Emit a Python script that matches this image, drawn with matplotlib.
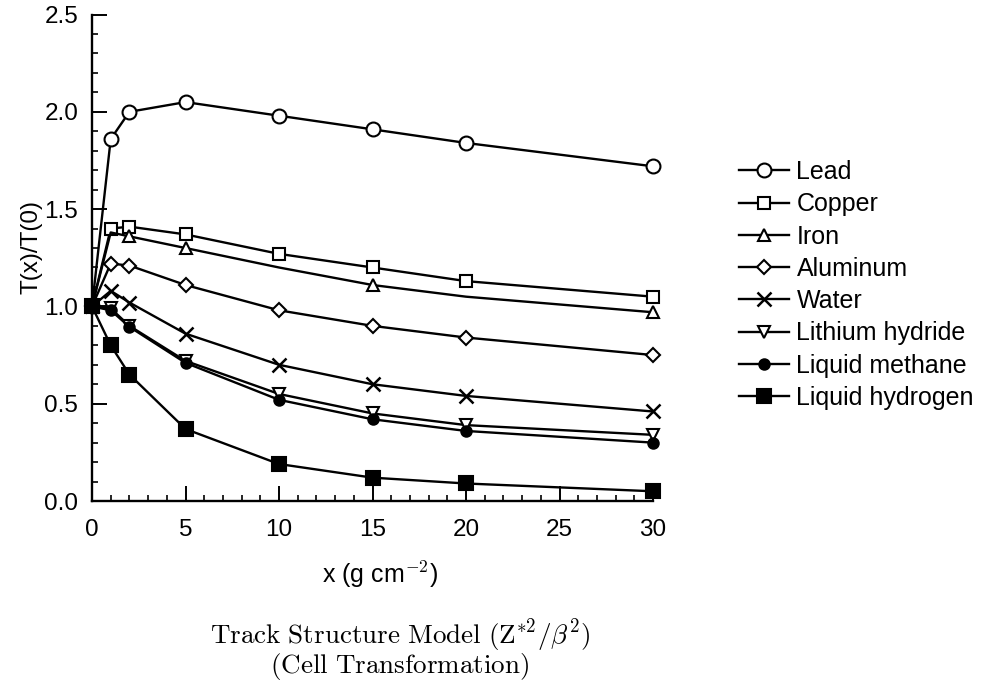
import matplotlib
matplotlib.use("Agg")
import matplotlib.pyplot as plt
from matplotlib.ticker import MultipleLocator

plt.rcParams['font.family'] = ['Liberation Sans', 'DejaVu Sans']
plt.rcParams['mathtext.fontset'] = 'cm'

# depth in g cm^-2
depth = [0, 1, 2, 5, 10, 15, 20, 30]

lead = [1.0, 1.86, 2.00, 2.05, 1.98, 1.91, 1.84, 1.72]
copper = [1.0, 1.40, 1.41, 1.37, 1.27, 1.20, 1.13, 1.05]
iron = [1.0, 1.38, 1.36, 1.30, 1.20, 1.11, 1.05, 0.97]
aluminum = [1.0, 1.22, 1.21, 1.11, 0.98, 0.90, 0.84, 0.75]
water = [1.0, 1.08, 1.02, 0.86, 0.70, 0.60, 0.54, 0.46]
lithium_hydride = [1.0, 0.99, 0.90, 0.72, 0.55, 0.45, 0.39, 0.34]
liquid_methane = [1.0, 0.98, 0.895, 0.71, 0.52, 0.42, 0.36, 0.30]
liquid_hydrogen = [1.0, 0.80, 0.65, 0.37, 0.19, 0.12, 0.09, 0.05]

labels = ["Lead", "Copper", "Iron", "Aluminum", "Water",
          "Lithium hydride", "Liquid methane", "Liquid hydrogen"]

series = [lead, copper, iron, aluminum, water,
          lithium_hydride, liquid_methane, liquid_hydrogen]

styles = [
    dict(marker='o', ms=10, mfc='white'),
    dict(marker='s', ms=9, mfc='white'),
    dict(marker='^', ms=8.5, mfc='white', markevery=[0, 2, 3, 5, 7]),
    dict(marker='D', ms=7, mfc='white'),
    dict(marker='x', ms=10, mew=1.8),
    dict(marker='v', ms=8.5, mfc='white'),
    dict(marker='o', ms=7.5, mfc='black'),
    dict(marker='s', ms=10.5, mfc='black'),
]

fig = plt.figure(figsize=(9.81, 6.85), dpi=100)
ax = fig.add_axes([0.0938, 0.2686, 0.5719, 0.7102])

for vals, lab, st in zip(series, labels, styles):
    st = dict(st)
    st.setdefault('mew', 1.5)
    ax.plot(depth, vals, color='black', lw=1.7, mec='black', label=lab,
            clip_on=False, **st)

ax.set_xlim(0, 30)
ax.set_ylim(0, 2.5)
ax.xaxis.set_major_locator(MultipleLocator(5))
ax.xaxis.set_minor_locator(MultipleLocator(1))
ax.yaxis.set_major_locator(MultipleLocator(0.5))
ax.yaxis.set_minor_locator(MultipleLocator(0.1))
ax.yaxis.set_major_formatter(plt.FuncFormatter(lambda v, p: f"{v:.1f}"))

for s in ['top', 'right']:
    ax.spines[s].set_visible(False)
for s in ['left', 'bottom']:
    ax.spines[s].set_linewidth(1.7)

ax.tick_params(axis='both', which='major', direction='in', length=11,
               width=1.4, labelsize=17.5)
ax.tick_params(axis='both', which='minor', direction='in', length=4.5,
               width=1.2)
ax.tick_params(axis='x', which='major', pad=13)
ax.tick_params(axis='y', which='major', pad=10)

ax.set_xlabel(r"x (g cm$^{\mathsf{-2}}$)", fontsize=18, va='center')
ax.xaxis.set_label_coords(0.513, -0.152)
ax.set_ylabel("T(x)/T(0)", fontsize=17.5)
ax.yaxis.set_label_coords(-0.088, 0.522)

leg = ax.legend(loc='upper left', bbox_to_anchor=(739 / 981, 1 - 160 / 685),
                bbox_transform=fig.transFigure, frameon=False, fontsize=18,
                handlelength=2.0, handletextpad=0.3, labelspacing=0.33,
                borderpad=0, borderaxespad=0, numpoints=1)

fig.text(400 / 981, 1 - 636 / 685,
         r"$\mathrm{Track\ Structure\ Model\ (Z^{*2}/\beta^{2})}$",
         ha='center', va='center', fontsize=19.5)
fig.text(400 / 981, 1 - 667 / 685,
         r"$\mathrm{(Cell\ Transformation)}$",
         ha='center', va='center', fontsize=19.5)

fig.savefig("out.png", dpi=100)
